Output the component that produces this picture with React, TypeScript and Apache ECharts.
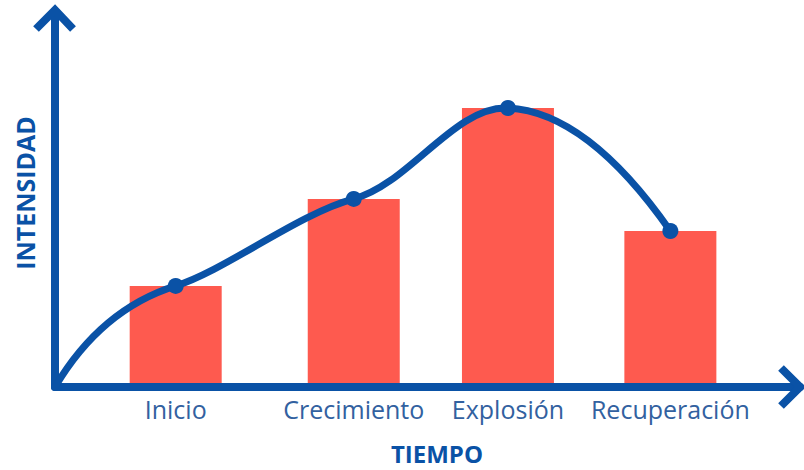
import React, { useEffect, useRef } from "react";
import * as echarts from "echarts";

const categories = ["Inicio", "Crecimiento", "Explosión", "Recuperación"];
const positions = [16.2, 40.1, 60.8, 82.6];
const barValues = [33.7, 62.7, 93, 52];
const lineValues = [33.7, 62.7, 93, 52];
const curveX = [0, ...positions];
const curveY = [0, ...lineValues];

const BLUE = "#0a52a6";
const RED = "#fe5a4f";
const LABEL = "#3261a0";
const FONT = "'Open Sans', sans-serif";

function buildPath(pts: number[][], flat: number): string {
  const n = pts.length;
  const m: number[][] = pts.map(() => [0, 0]);
  for (let i = 1; i < n - 1; i++) {
    m[i] = [(pts[i + 1][0] - pts[i - 1][0]) / 2, ((pts[i + 1][1] - pts[i - 1][1]) / 2) * flat];
  }
  m[0] = [2 * (pts[1][0] - pts[0][0]) - m[1][0], 2 * (pts[1][1] - pts[0][1]) - m[1][1]];
  m[n - 1] = [
    2 * (pts[n - 1][0] - pts[n - 2][0]) - m[n - 2][0],
    2 * (pts[n - 1][1] - pts[n - 2][1]) - m[n - 2][1],
  ];
  let d = `M${pts[0][0]},${pts[0][1]}`;
  for (let i = 0; i < n - 1; i++) {
    const c1 = [pts[i][0] + m[i][0] / 3, pts[i][1] + m[i][1] / 3];
    const c2 = [pts[i + 1][0] - m[i + 1][0] / 3, pts[i + 1][1] - m[i + 1][1] / 3];
    d += ` C${c1[0]},${c1[1]} ${c2[0]},${c2[1]} ${pts[i + 1][0]},${pts[i + 1][1]}`;
  }
  return d;
}

export default function App() {
  const ref = useRef<HTMLDivElement>(null);
  useEffect(() => {
    const chart = echarts.init(ref.current!, null, { renderer: "svg" });
    const barData = categories.map((c, i) => ({ value: [positions[i], barValues[i]], name: c }));
    const pointData = positions.map((p, i) => [p, lineValues[i]]);
    chart.setOption({
      animation: false,
      grid: { left: 55, right: 4, top: 12, bottom: 83 },
      xAxis: {
        type: "value",
        min: 0,
        max: 100,
        z: 3,
        axisLine: { show: true, lineStyle: { color: BLUE, width: 8 } },
        axisTick: { show: false },
        axisLabel: { show: false },
        splitLine: { show: false },
      },
      yAxis: {
        type: "value",
        min: 0,
        max: 125,
        z: 3,
        axisLine: { show: true, lineStyle: { color: BLUE, width: 8 } },
        axisTick: { show: false },
        axisLabel: { show: false },
        splitLine: { show: false },
      },
      series: [
        {
          type: "bar",
          data: barData,
          barWidth: 92,
          z: 1,
          itemStyle: { color: RED },
          label: {
            show: true,
            position: "bottom",
            distance: 9,
            formatter: (p: any) => p.name,
            color: LABEL,
            fontFamily: FONT,
            fontSize: 25,
          },
        },
        {
          type: "custom",
          z: 5,
          clip: false,
          data: [[curveX[0], curveY[0]]],
          encode: { x: 0, y: 1 },
          renderItem: (params: any, api: any) => {
            if (params.dataIndex !== 0) return { type: "group", children: [] };
            const pts = curveX.map((x, i) => api.coord([x, curveY[i]]));
            return {
              type: "path",
              shape: { pathData: buildPath(pts, 0.5) },
              style: { stroke: BLUE, lineWidth: 7, fill: "none", lineCap: "round" },
            };
          },
        },
        {
          type: "scatter",
          z: 6,
          data: pointData,
          symbol: "circle",
          symbolSize: 16,
          itemStyle: { color: BLUE, opacity: 1 },
        },
      ],
      graphic: [
        {
          type: "polyline",
          shape: { points: [[36, 29], [55, 10], [73, 29]] },
          style: { stroke: BLUE, lineWidth: 8, fill: "none", lineCap: "butt", lineJoin: "miter" },
          z: 10,
        },
        {
          type: "polyline",
          shape: { points: [[781, 368], [800, 387], [781, 406]] },
          style: { stroke: BLUE, lineWidth: 8, fill: "none", lineCap: "butt", lineJoin: "miter" },
          z: 10,
        },
        {
          type: "text",
          x: 437,
          y: 453,
          style: {
            text: "TIEMPO",
            fill: BLUE,
            font: `bold 24px ${FONT}`,
            align: "center",
            verticalAlign: "middle",
          },
        },
        {
          type: "text",
          x: 25,
          y: 193,
          rotation: Math.PI / 2,
          style: {
            text: "INTENSIDAD",
            fill: BLUE,
            font: `bold 25px ${FONT}`,
            align: "center",
            verticalAlign: "middle",
          },
        },
      ],
    });
    return () => chart.dispose();
  }, []);
  return <div ref={ref} style={{ width: 804, height: 470, position: "absolute", left: 0, top: 0 }} />;
}
